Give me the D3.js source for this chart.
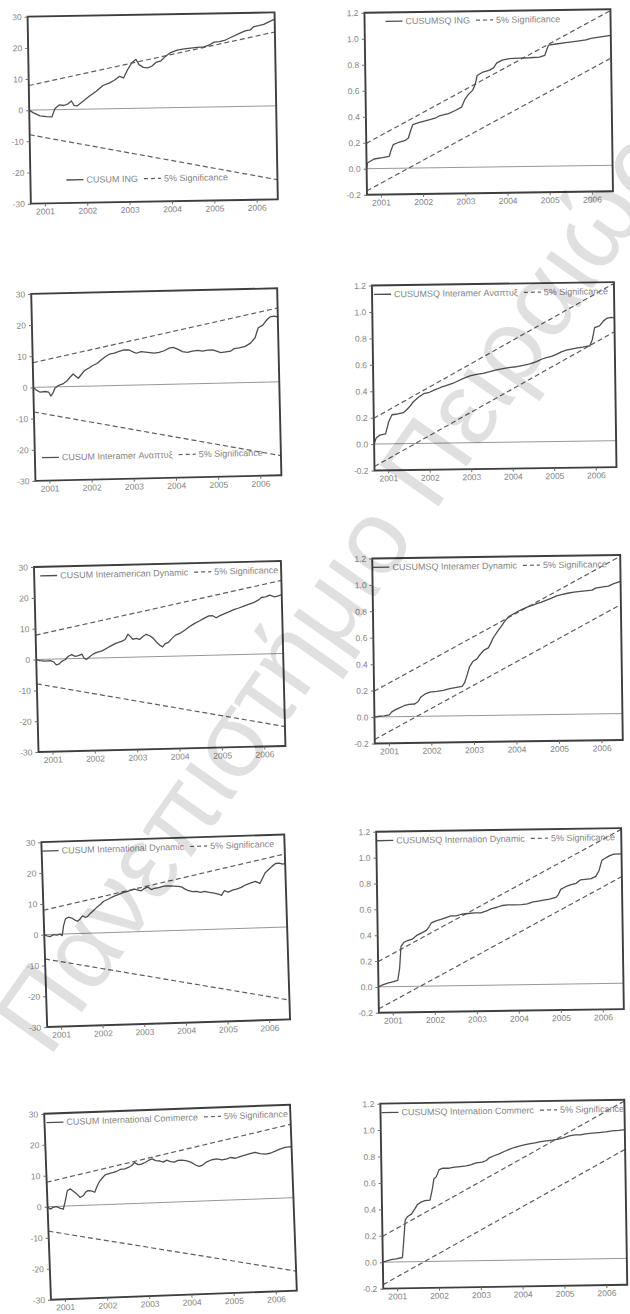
<!DOCTYPE html>
<html>
<head>
<meta charset="utf-8">
<script src="https://cdn.jsdelivr.net/npm/d3@7"></script>
<style>
  body { margin: 0; background: #fff; }
  svg { display: block; }
  text { font-family: "Liberation Sans", Arial, sans-serif; }
</style>
</head>
<body>
<svg id="chart" width="630" height="1314"></svg>
<script>
// ---- sample and axis settings ----
const sampleSpan = [2000.67, 2006.5];          // first / last recursive residual
const yearTicks = [2001, 2002, 2003, 2004, 2005, 2006];
const cusumRange = [-30, 30];
const cusumTicks = [-30, -20, -10, 0, 10, 20, 30];
const cusumTickLabels = ["-30", "-20", "-10", "0", "10", "20", "30"];
const sqRange = [-0.2, 1.2];
const sqTicks = [-0.2, 0, 0.2, 0.4, 0.6, 0.8, 1.0, 1.2];
const sqTickLabels = ["-0.2", "0.0", "0.2", "0.4", "0.6", "0.8", "1.0", "1.2"];

// 5% significance bounds (value at first and last observation)
const cusumUpper = [7.9, 23.7];
const cusumLower = [-7.9, -23.7];
const sqUpper = [0.195, 1.19];
const sqLower = [-0.17, 0.825];

const sigLabel = "5% Significance";

// ---- recursive CUSUM / CUSUM of squares series: [date, value] ----
const cusumING = [[2000.67,0],[2000.76,-0.8],[2000.92,-1.9],[2001.08,-2.2],[2001.20,-2.3],[2001.28,0.4],[2001.38,1.5],[2001.49,1.3],[2001.59,1.8],[2001.67,2.7],[2001.73,1.3],[2001.80,1.1],[2001.95,2.6],[2002.10,4.2],[2002.26,5.7],[2002.42,7.5],[2002.58,8.3],[2002.69,9.1],[2002.81,10.3],[2002.91,9.8],[2003.01,12.5],[2003.11,14.6],[2003.21,15.7],[2003.28,14.0],[2003.38,13.1],[2003.48,12.9],[2003.58,13.4],[2003.68,14.6],[2003.80,15.1],[2003.91,16.5],[2004.03,17.7],[2004.19,18.4],[2004.35,18.8],[2004.50,19.0],[2004.66,19.2],[2004.82,19.3],[2004.95,19.9],[2005.06,20.8],[2005.19,20.9],[2005.33,21.4],[2005.49,22.4],[2005.65,23.4],[2005.80,24.2],[2005.92,24.5],[2006.00,25.5],[2006.12,25.8],[2006.24,26.2],[2006.36,27.0],[2006.50,27.8]];

const cusumsqING = [[2000.67,0],[2000.69,0.044],[2000.85,0.074],[2001.05,0.083],[2001.21,0.093],[2001.26,0.144],[2001.31,0.183],[2001.44,0.200],[2001.60,0.214],[2001.67,0.232],[2001.72,0.283],[2001.78,0.335],[2001.92,0.349],[2002.12,0.366],[2002.31,0.381],[2002.43,0.401],[2002.63,0.415],[2002.79,0.438],[2002.94,0.463],[2003.02,0.522],[2003.10,0.557],[2003.21,0.593],[2003.27,0.636],[2003.32,0.705],[2003.46,0.731],[2003.62,0.745],[2003.71,0.762],[2003.79,0.800],[2003.92,0.821],[2004.09,0.831],[2004.33,0.834],[2004.57,0.836],[2004.80,0.840],[2004.93,0.853],[2004.98,0.898],[2005.02,0.931],[2005.20,0.939],[2005.43,0.948],[2005.67,0.957],[2005.91,0.967],[2006.03,0.979],[2006.18,0.986],[2006.34,0.993],[2006.50,1.000]];

const cusumInteramerAnapt = [[2000.67,0],[2000.73,-0.8],[2000.83,-1.6],[2000.95,-1.4],[2001.03,-1.6],[2001.08,-2.9],[2001.13,-2.0],[2001.18,-0.4],[2001.26,0.4],[2001.37,0.9],[2001.46,1.7],[2001.54,2.9],[2001.62,4.0],[2001.74,2.6],[2001.81,3.7],[2001.89,5.0],[2002.00,5.8],[2002.09,6.6],[2002.19,7.2],[2002.29,8.3],[2002.39,9.3],[2002.49,10.1],[2002.61,10.4],[2002.72,10.9],[2002.84,11.4],[2002.96,11.3],[2003.06,10.6],[2003.13,10.2],[2003.24,10.7],[2003.40,10.4],[2003.55,10.1],[2003.67,10.3],[2003.79,10.8],[2003.91,11.6],[2004.00,11.8],[2004.11,11.2],[2004.22,10.4],[2004.34,10.1],[2004.46,10.5],[2004.58,10.7],[2004.70,10.4],[2004.82,10.7],[2004.94,10.7],[2005.03,10.3],[2005.13,9.8],[2005.25,10.0],[2005.37,10.2],[2005.45,11.0],[2005.57,11.2],[2005.71,11.6],[2005.84,12.6],[2005.95,14.3],[2006.03,17.5],[2006.14,18.3],[2006.24,20.0],[2006.32,20.9],[2006.42,21.1],[2006.50,20.8]];

const cusumsqInteramerAnapt = [[2000.67,0],[2000.72,0.046],[2000.81,0.067],[2000.95,0.076],[2001.03,0.169],[2001.11,0.220],[2001.25,0.225],[2001.38,0.234],[2001.46,0.254],[2001.54,0.280],[2001.63,0.316],[2001.76,0.351],[2001.88,0.376],[2002.02,0.386],[2002.16,0.406],[2002.29,0.421],[2002.44,0.436],[2002.58,0.450],[2002.72,0.470],[2002.86,0.490],[2003.00,0.505],[2003.16,0.517],[2003.32,0.524],[2003.48,0.535],[2003.64,0.548],[2003.80,0.557],[2003.97,0.566],[2004.13,0.570],[2004.29,0.580],[2004.45,0.590],[2004.61,0.607],[2004.73,0.624],[2004.85,0.636],[2004.97,0.644],[2005.09,0.659],[2005.21,0.678],[2005.33,0.691],[2005.45,0.698],[2005.57,0.705],[2005.73,0.712],[2005.90,0.721],[2005.96,0.767],[2006.02,0.857],[2006.14,0.870],[2006.23,0.906],[2006.31,0.926],[2006.42,0.933],[2006.50,0.930]];

const cusumInteramerDynamic = [[2000.67,0],[2000.76,-0.4],[2000.88,-0.6],[2001.00,-0.5],[2001.08,-0.9],[2001.14,-1.9],[2001.20,-1.7],[2001.27,-0.8],[2001.35,-0.3],[2001.43,0.8],[2001.51,1.3],[2001.59,0.7],[2001.67,0.9],[2001.75,1.4],[2001.80,0.05],[2001.85,-0.4],[2001.91,0.2],[2002.01,1.3],[2002.12,1.9],[2002.23,2.3],[2002.34,3.1],[2002.45,3.9],[2002.57,4.7],[2002.69,5.2],[2002.78,5.8],[2002.85,7.5],[2002.91,6.6],[2002.96,5.8],[2003.04,6.1],[2003.12,5.7],[2003.20,6.6],[2003.28,7.3],[2003.36,6.8],[2003.44,6.0],[2003.51,4.8],[2003.59,3.7],[2003.66,3.1],[2003.72,4.1],[2003.80,4.5],[2003.88,5.7],[2003.97,6.8],[2004.08,7.4],[2004.19,8.3],[2004.30,9.4],[2004.42,10.4],[2004.54,11.2],[2004.65,12.0],[2004.77,12.8],[2004.86,12.8],[2004.94,12.1],[2005.02,12.7],[2005.13,13.3],[2005.24,13.9],[2005.36,14.6],[2005.48,15.1],[2005.60,15.7],[2005.71,16.2],[2005.83,16.7],[2005.93,17.4],[2006.03,18.4],[2006.12,18.5],[2006.22,19.0],[2006.33,18.4],[2006.42,18.7],[2006.50,19.1]];

const cusumsqInteramerDynamic = [[2000.67,0],[2000.79,0.005],[2000.90,0.007],[2001.02,0.014],[2001.08,0.037],[2001.16,0.052],[2001.26,0.067],[2001.37,0.082],[2001.49,0.092],[2001.62,0.094],[2001.70,0.111],[2001.77,0.147],[2001.86,0.167],[2001.98,0.182],[2002.14,0.187],[2002.30,0.194],[2002.45,0.206],[2002.61,0.215],[2002.74,0.222],[2002.80,0.248],[2002.86,0.307],[2002.92,0.368],[2003.00,0.409],[2003.10,0.429],[2003.17,0.460],[2003.27,0.495],[2003.37,0.511],[2003.42,0.541],[2003.49,0.587],[2003.58,0.630],[2003.68,0.673],[2003.77,0.714],[2003.86,0.745],[2003.96,0.763],[2004.07,0.783],[2004.19,0.800],[2004.31,0.817],[2004.43,0.830],[2004.52,0.840],[2004.62,0.850],[2004.74,0.865],[2004.86,0.879],[2004.99,0.897],[2005.11,0.907],[2005.25,0.916],[2005.40,0.924],[2005.56,0.928],[2005.72,0.933],[2005.83,0.937],[2005.91,0.952],[2006.05,0.959],[2006.21,0.966],[2006.34,0.984],[2006.50,1.000]];

const cusumIntlDynamic = [[2000.67,0],[2000.73,-0.4],[2000.81,-0.7],[2000.89,-0.1],[2000.97,-0.3],[2001.05,0.0],[2001.10,-0.5],[2001.14,2.7],[2001.19,4.9],[2001.26,5.4],[2001.34,5.1],[2001.42,4.4],[2001.48,4.0],[2001.54,4.7],[2001.60,5.7],[2001.66,5.2],[2001.72,5.4],[2001.79,6.4],[2001.87,7.3],[2001.95,8.3],[2002.03,9.1],[2002.12,10.2],[2002.24,10.9],[2002.35,11.6],[2002.47,12.2],[2002.59,12.8],[2002.70,13.2],[2002.79,13.5],[2002.87,13.8],[2002.95,13.5],[2003.03,13.2],[2003.11,14.0],[2003.19,14.4],[2003.27,13.5],[2003.35,13.9],[2003.45,14.1],[2003.57,14.5],[2003.69,14.5],[2003.81,14.4],[2003.93,14.3],[2004.01,14.0],[2004.07,13.4],[2004.15,12.9],[2004.25,12.4],[2004.35,12.5],[2004.45,12.1],[2004.55,12.4],[2004.66,12.0],[2004.78,11.7],[2004.89,11.3],[2004.95,10.9],[2005.02,12.4],[2005.11,11.9],[2005.22,12.5],[2005.33,12.9],[2005.43,13.3],[2005.54,14.1],[2005.65,14.6],[2005.77,15.1],[2005.88,14.4],[2005.94,15.9],[2006.01,17.7],[2006.10,18.8],[2006.18,19.8],[2006.27,20.7],[2006.36,20.8],[2006.44,20.4],[2006.50,20.6]];

const cusumsqIntlDynamic = [[2000.67,0],[2000.77,0.015],[2000.89,0.027],[2001.01,0.037],[2001.13,0.047],[2001.18,0.141],[2001.22,0.311],[2001.29,0.342],[2001.38,0.355],[2001.49,0.365],[2001.61,0.396],[2001.72,0.413],[2001.83,0.431],[2001.89,0.457],[2001.95,0.488],[2002.06,0.503],[2002.18,0.515],[2002.30,0.528],[2002.42,0.540],[2002.54,0.540],[2002.67,0.552],[2002.83,0.557],[2002.99,0.561],[2003.13,0.560],[2003.27,0.575],[2003.39,0.592],[2003.52,0.602],[2003.65,0.615],[2003.78,0.619],[2003.94,0.618],[2004.10,0.620],[2004.24,0.625],[2004.36,0.637],[2004.50,0.644],[2004.63,0.651],[2004.77,0.659],[2004.92,0.671],[2004.98,0.691],[2005.04,0.733],[2005.16,0.753],[2005.29,0.768],[2005.41,0.778],[2005.51,0.804],[2005.63,0.808],[2005.77,0.813],[2005.88,0.830],[2005.96,0.875],[2006.03,0.953],[2006.12,0.971],[2006.22,0.988],[2006.32,1.000],[2006.50,1.000]];

const cusumIntlCommerce = [[2000.67,0],[2000.73,-0.8],[2000.80,-0.3],[2000.88,-0.1],[2000.96,-0.6],[2001.04,-1.0],[2001.09,1.4],[2001.15,4.9],[2001.22,5.5],[2001.30,4.6],[2001.37,3.8],[2001.45,2.6],[2001.52,3.1],[2001.58,4.2],[2001.64,4.7],[2001.72,4.6],[2001.80,4.1],[2001.86,6.0],[2001.92,7.5],[2001.99,8.6],[2002.06,9.6],[2002.15,9.9],[2002.24,10.2],[2002.34,10.6],[2002.43,11.2],[2002.53,11.3],[2002.62,11.7],[2002.70,12.3],[2002.77,13.2],[2002.85,12.5],[2002.93,12.6],[2003.02,13.1],[2003.11,13.8],[2003.19,14.2],[2003.27,13.6],[2003.37,13.4],[2003.45,13.0],[2003.53,13.6],[2003.62,13.1],[2003.71,12.9],[2003.80,13.4],[2003.89,13.4],[2004.01,13.1],[2004.11,12.6],[2004.21,11.7],[2004.29,11.2],[2004.38,11.6],[2004.48,12.6],[2004.60,13.2],[2004.72,13.4],[2004.84,13.0],[2004.96,13.3],[2005.04,13.7],[2005.16,13.4],[2005.27,13.9],[2005.39,14.3],[2005.51,14.7],[2005.63,15.1],[2005.75,14.6],[2005.87,14.4],[2005.99,14.6],[2006.11,15.2],[2006.22,15.8],[2006.34,16.3],[2006.50,16.5]];

const cusumsqIntlCommerce = [[2000.67,0],[2000.75,0.007],[2000.87,0.019],[2000.99,0.024],[2001.14,0.033],[2001.18,0.170],[2001.22,0.318],[2001.28,0.343],[2001.37,0.360],[2001.45,0.398],[2001.52,0.433],[2001.60,0.450],[2001.70,0.460],[2001.82,0.464],[2001.88,0.548],[2001.92,0.624],[2001.98,0.641],[2002.05,0.694],[2002.14,0.704],[2002.29,0.703],[2002.42,0.710],[2002.56,0.714],[2002.70,0.718],[2002.82,0.728],[2002.94,0.740],[2003.08,0.745],[2003.18,0.757],[2003.26,0.779],[2003.38,0.794],[2003.49,0.806],[2003.61,0.823],[2003.73,0.838],[2003.85,0.852],[2003.97,0.862],[2004.09,0.871],[2004.21,0.878],[2004.35,0.885],[2004.49,0.894],[2004.62,0.899],[2004.77,0.903],[2004.91,0.910],[2005.05,0.921],[2005.17,0.934],[2005.31,0.941],[2005.44,0.940],[2005.56,0.947],[2005.72,0.951],[2005.88,0.955],[2006.04,0.959],[2006.20,0.966],[2006.36,0.970],[2006.50,0.975]];

// ---- panel layout: centre, frame size, slight tilt, legend placement ----
const panels = [
  { name: "CUSUM ING",                     kind: "cusum", series: cusumING,              cx: 152.7, cy: 108.0,  w: 247, h: 187, angle: -1.0,  legend: "bottom", lx: 36 },
  { name: "CUSUMSQ ING",                   kind: "sq",    series: cusumsqING,            cx: 488.7, cy: 102.0,  w: 246, h: 182, angle: -0.8,  legend: "top",    lx: 21 },
  { name: "CUSUM Interamer Αναπτυξ",       kind: "cusum", series: cusumInteramerAnapt,   cx: 156.3, cy: 384.6,  w: 246, h: 187, angle: -1.3,  legend: "bottom", lx: 7 },
  { name: "CUSUMSQ Interamer Αναπτυξ",     kind: "sq",    series: cusumsqInteramerAnapt, cx: 494.2, cy: 376.3,  w: 242, h: 185, angle: -0.8,  legend: "top",    lx: 2 },
  { name: "CUSUM Interamerican Dynamic",   kind: "cusum", series: cusumInteramerDynamic, cx: 159.7, cy: 656.5,  w: 247, h: 185, angle: -1.4,  legend: "top",    lx: 6 },
  { name: "CUSUMSQ Interamer Dynamic",     kind: "sq",    series: cusumsqInteramerDynamic, cx: 497.5, cy: 649.2, w: 248, h: 185, angle: -0.8, legend: "top",    lx: 0 },
  { name: "CUSUM International Dynamic",   kind: "cusum", series: cusumIntlDynamic,      cx: 165.7, cy: 930.8,  w: 243, h: 185, angle: -1.8,  legend: "top",    lx: 0 },
  { name: "CUSUMSQ Internation Dynamic",   kind: "sq",    series: cusumsqIntlDynamic,    cx: 500.0, cy: 920.4,  w: 245, h: 181, angle: -0.85, legend: "top",    lx: 0 },
  { name: "CUSUM International Commerce",  kind: "cusum", series: cusumIntlCommerce,     cx: 170.5, cy: 1202.2, w: 246, h: 186, angle: -2.1,  legend: "top",    lx: 2 },
  { name: "CUSUMSQ Internation Commerc",   kind: "sq",    series: cusumsqIntlCommerce,   cx: 503.8, cy: 1194.2, w: 244, h: 185, angle: -0.9,  legend: "top",    lx: 1 }
];

const ink = { frame: "#3e3e3e", series: "#4e4e4e", bound: "#5e5e5e", zero: "#8c8c8c", text: "#858585", tick: "#6a6a6a" };
const svg = d3.select("#chart");

panels.forEach((p, i) => {
  const g = svg.append("g")
    .attr("transform", `translate(${p.cx},${p.cy}) rotate(${p.angle}) translate(${-p.w / 2},${-p.h / 2})`);

  const isSq = p.kind === "sq";
  const x = d3.scaleLinear().domain(sampleSpan).range([0, p.w]);
  const y = d3.scaleLinear().domain(isSq ? sqRange : cusumRange).range([p.h, 0]);
  const line = d3.line().x(d => x(d[0])).y(d => y(d[1]));

  const clipId = "plotclip" + i;
  g.append("clipPath").attr("id", clipId)
    .append("rect").attr("width", p.w).attr("height", p.h);
  const plot = g.append("g").attr("clip-path", `url(#${clipId})`);

  // zero reference line
  plot.append("line")
    .attr("x1", 0).attr("x2", p.w).attr("y1", y(0)).attr("y2", y(0))
    .attr("stroke", ink.zero).attr("stroke-width", 0.9);

  // significance bounds
  const bounds = isSq ? [sqUpper, sqLower] : [cusumUpper, cusumLower];
  bounds.forEach(b => {
    plot.append("path")
      .datum(sampleSpan.map((t, k) => [t, b[k]]))
      .attr("d", line)
      .attr("fill", "none").attr("stroke", ink.bound)
      .attr("stroke-width", 1.2).attr("stroke-dasharray", "5,3");
  });

  // test statistic
  plot.append("path")
    .datum(p.series)
    .attr("d", line)
    .attr("fill", "none").attr("stroke", ink.series)
    .attr("stroke-width", 1.3).attr("stroke-linejoin", "round");

  // frame
  g.append("rect")
    .attr("width", p.w).attr("height", p.h)
    .attr("fill", "none").attr("stroke", ink.frame).attr("stroke-width", 1.9);

  // axes
  const ticks = isSq ? sqTicks : cusumTicks;
  const tickLabels = isSq ? sqTickLabels : cusumTickLabels;
  const yAxis = d3.axisLeft(y).tickValues(ticks).tickSize(3).tickPadding(3)
    .tickFormat((d, k) => tickLabels[k]);
  const xAxis = d3.axisBottom(x).tickValues(yearTicks).tickSize(3).tickPadding(2)
    .tickFormat(d3.format("d"));

  const styleAxis = sel => {
    sel.select(".domain").remove();
    sel.selectAll(".tick line").attr("stroke", ink.tick);
    sel.selectAll(".tick text").attr("fill", ink.text)
      .attr("font-size", 8.5).attr("font-family", "Liberation Sans, Arial, sans-serif");
  };
  g.append("g").call(yAxis).call(styleAxis);
  g.append("g").attr("transform", `translate(0,${p.h})`).call(xAxis).call(styleAxis);

  // legend
  const ly = p.legend === "top" ? 9 : p.h - 23;
  const lg = g.append("g").attr("transform", `translate(${p.lx},${ly})`);
  lg.append("line").attr("x1", 0).attr("x2", 17).attr("y1", 0).attr("y2", 0)
    .attr("stroke", ink.series).attr("stroke-width", 1.3);
  const t1 = lg.append("text").attr("x", 20).attr("dy", "0.34em")
    .attr("font-size", 9).attr("fill", ink.text).text(p.name);
  const x2 = 20 + t1.node().getComputedTextLength() + 6;
  lg.append("line").attr("x1", x2).attr("x2", x2 + 17).attr("y1", 0).attr("y2", 0)
    .attr("stroke", ink.bound).attr("stroke-width", 1.2).attr("stroke-dasharray", "4,3");
  lg.append("text").attr("x", x2 + 20).attr("dy", "0.34em")
    .attr("font-size", 9).attr("fill", ink.text).text(sigLabel);
});

// university watermark across the page
svg.append("text")
  .attr("transform", "translate(23,1041) rotate(-54.8)")
  .attr("dy", "0.3em")
  .attr("font-size", 105)
  .attr("fill", "#000")
  .attr("fill-opacity", 0.12)
  .text("Πανεπιστήμιο Πειραιώς");
</script>
</body>
</html>
